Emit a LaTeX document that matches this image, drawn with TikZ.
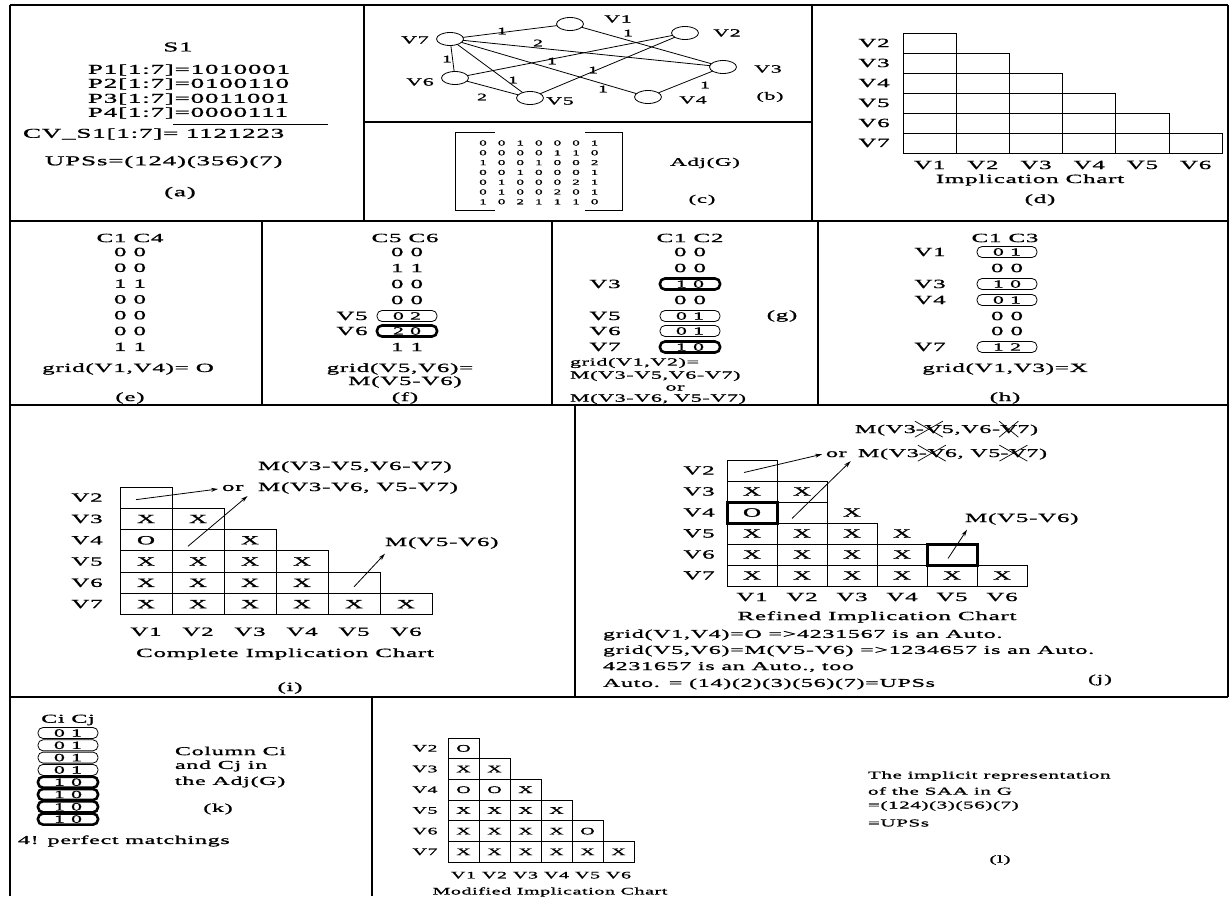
\documentclass[tikz,border=0pt]{standalone}
\usepackage{fontspec}
\setmainfont{Liberation Serif}[FakeStretch=2.0,LetterSpace=6,FakeBold=1.2]
\usetikzlibrary{shapes.geometric,arrows.meta}
\newcommand\fsz[1]{\fontsize{#1}{#1}\selectfont}
\newcommand\chartlabels[8]{%
  \foreach \rA in {2,...,7}
    \node[fs=#6] (#1-r\rA) at ({#2-#7},{#3+(\rA-1.5)*#5}) {V\rA};
  \foreach \cA in {1,...,6}
    \node[fs=#6] (#1-c\cA) at ({#2+(\cA-0.5)*#4},{#3+6*#5+#8}) {V\cA};
}
\newcommand\cells[7]{%
  \foreach \cA/\rA/\tA in {#7}
    \node[#6, minimum width=#4pt, minimum height=#5pt] (#1-\cA-\rA) at ({#2+(\cA-0.5)*#4},{#3+(\rA-1.5)*#5}) {\tA};
}
\begin{document}
\begin{tikzpicture}[x=1pt,y=-1pt,
  every node/.style={inner sep=0pt, outer sep=0pt},
  fs/.style={font=\fsz{#1}},
  frame/.style={line width=1.1pt},
  cell/.style={draw, line width=0.9pt, fs=12.5},
  nobox/.style={fs=12.5},
  thickcell/.style={draw, line width=3pt, fs=12.5},
  lcell/.style={draw, line width=0.9pt, fs=10},
  pill/.style={draw, line width=0.8pt, rounded corners=5pt, minimum width=60pt, minimum height=11pt, fs=11},
  thickpill/.style={pill, line width=2.6pt},
  vnode/.style={draw, ellipse, line width=0.8pt, minimum width=27pt, minimum height=13pt},
  edge/.style={line width=0.8pt},
  arr/.style={line width=0.8pt, -{Stealth[length=7pt,width=4pt]}},
  cross/.style={line width=0.7pt},
]
\useasboundingbox (0,0) rectangle (1230,896);
\fill[white] (0,0) rectangle (1230,896);

% frames
\draw[frame] (10,5) -- (1228,5);
\draw[frame] (10,5) -- (10,896);
\draw[frame] (1228,5) -- (1228,697);
\draw[frame] (10,221) -- (1228,221);
\draw[frame] (10,405) -- (1228,405);
\draw[frame] (10,697) -- (1228,697);
\draw[frame] (364,5) -- (364,221);
\draw[frame] (812,5) -- (812,221);
\draw[frame] (364,122) -- (812,122);
\draw[frame] (262,221) -- (262,405);
\draw[frame] (552,221) -- (552,405);
\draw[frame] (818,221) -- (818,405);
\draw[frame] (575,405) -- (575,697);
\draw[frame] (372,697) -- (372,896);

% (a)
\node[fs=13.5] (a-s1) at (178,47) {S1};
\node[fs=13.5,anchor=west] (a-p1) at (88,70) {P1[1:7]=1010001};
\node[fs=13.5,anchor=west] (a-p2) at (88,84) {P2[1:7]=0100110};
\node[fs=13.5,anchor=west] (a-p3) at (88,99) {P3[1:7]=0011001};
\node[fs=13.5,anchor=west] (a-p4) at (88,113) {P4[1:7]=0000111};
\draw[line width=0.8pt] (173,124) -- (328,124);
\node[fs=13.5,anchor=west] (a-cv) at (23,134) {CV\_S1[1:7]= 1121223};
\node[fs=13.5,anchor=west] (a-ups) at (45,162) {UPSs=(124)(356)(7)};
\node[fs=13.5] (a-lab) at (180,193) {(a)};

% (b) graph
\node[vnode] (v1) at (570,24) {};
\node[vnode] (v2) at (685,33) {};
\node[vnode] (v3) at (723,67) {};
\node[vnode] (v4) at (648,97) {};
\node[vnode] (v5) at (530,98) {};
\node[vnode] (v6) at (455,78) {};
\node[vnode] (v7) at (450,39) {};
\node[fs=11] (lv1) at (618,19) {V1};
\node[fs=11] (lv2) at (727,33) {V2};
\node[fs=11] (lv3) at (768,69) {V3};
\node[fs=11] (lv4) at (693,100) {V4};
\node[fs=11] (lv5) at (560,101) {V5};
\node[fs=11] (lv6) at (420,82) {V6};
\node[fs=11] (lv7) at (415,40) {V7};
\node[fs=11] (b-lab) at (770,97) {(b)};
\draw[edge] (v7) -- (v1);
\draw[edge] (v1) -- (v3);
\draw[edge] (v7) -- (v3);
\draw[edge] (v7) -- (v6);
\draw[edge] (v7) -- (v5);
\draw[edge] (v7) -- (v4);
\draw[edge] (v6) -- (v2);
\draw[edge] (v5) -- (v2);
\draw[edge] (v6) -- (v5);
\draw[edge] (v4) -- (v3);
\node[fs=10] (w71) at (502,31) {1};
\node[fs=10] (w13) at (628,33) {1};
\node[fs=10] (w73) at (538,43) {2};
\node[fs=10] (w76) at (447,59) {1};
\node[fs=10] (w62) at (552,61) {1};
\node[fs=10] (w52) at (593,70) {1};
\node[fs=10] (w75) at (513,80) {1};
\node[fs=10] (w74) at (603,89) {1};
\node[fs=10] (w65) at (482,97) {2};
\node[fs=10] (w43) at (705,85) {1};

% (c) adjacency matrix
\draw[line width=0.9pt] (495,132) -- (455,132) -- (455,210) -- (495,210);
\draw[line width=0.9pt] (585,132) -- (622,132) -- (622,210) -- (585,210);
\foreach \rowA [count=\ri] in {{0,0,1,0,0,0,1},{0,0,0,0,1,1,0},{1,0,0,1,0,0,2},{0,0,1,0,0,0,1},{0,1,0,0,0,2,1},{0,1,0,0,2,0,1},{1,0,2,1,1,1,0}}
  \foreach \dA [count=\cj] in \rowA
    \node[fs=7.5] (m-\ri-\cj) at ({483+(\cj-1)*18.6},{143+(\ri-1)*9.8}) {\dA};
\node[fs=11.5] (c-adj) at (705,163) {Adj(G)};
\node[fs=11.5] (c-lab) at (702,200) {(c)};

% (d)
\foreach \cA in {1,...,6}{
  \pgfmathtruncatemacro\rS{\cA+1}
  \foreach \rA in {\rS,...,7}
    \node[draw, line width=0.9pt, minimum width=53.2pt, minimum height=20pt] (d-\cA-\rA) at ({903+(\cA-0.5)*53.2},{33+(\rA-1.5)*20}) {};
}
\chartlabels{d}{903}{33}{53.2}{20}{12.5}{29}{12}
\node[fs=12.5] (d-title) at (1030,180) {Implication Chart};
\node[fs=12.5] (d-lab) at (1040,200) {(d)};

% (e)
\node[fs=12.5] (e-h) at (130,238) {C1 C4};
\foreach \tA [count=\i] in {0 0,0 0,1 1,0 0,0 0,0 0,1 1}
  \node[fs=12.5] (e-\i) at (130,{252+(\i-1)*15.8}) {\tA};
\node[fs=12.5] (e-g) at (128,369) {grid(V1,V4)= O};
\node[fs=12.5] (e-lab) at (130,398) {(e)};

% (f)
\node[fs=12.5] (f-h) at (405,238) {C5 C6};
\node[fs=12.5] (f-1) at (407,252) {0 0};
\node[fs=12.5] (f-2) at (407,268) {1 1};
\node[fs=12.5] (f-3) at (407,284) {0 0};
\node[fs=12.5] (f-4) at (407,300) {0 0};
\node[pill] (f-5) at (407,316) {0 2};
\node[thickpill] (f-6) at (407,331) {2 0};
\node[fs=12.5] (f-7) at (407,347) {1 1};
\node[fs=12.5] (f-l5) at (352,316) {V5};
\node[fs=12.5] (f-l6) at (352,331) {V6};
\node[fs=12.5] (f-g1) at (400,369) {grid(V5,V6)=};
\node[fs=12.5] (f-g2) at (405,382) {M(V5-V6)};
\node[fs=12.5] (f-lab) at (405,398) {(f)};

% (g)
\node[fs=12.5] (g-h) at (690,238) {C1 C2};
\node[fs=12.5] (g-1) at (690,252) {0 0};
\node[fs=12.5] (g-2) at (690,268) {0 0};
\node[thickpill] (g-3) at (690,284) {1 0};
\node[fs=12.5] (g-4) at (690,300) {0 0};
\node[pill] (g-5) at (690,316) {0 1};
\node[pill] (g-6) at (690,331) {0 1};
\node[thickpill] (g-7) at (690,347) {1 0};
\node[fs=12.5] (g-l3) at (605,284) {V3};
\node[fs=12.5] (g-l5) at (605,316) {V5};
\node[fs=12.5] (g-l6) at (605,331) {V6};
\node[fs=12.5] (g-l7) at (605,347) {V7};
\node[fs=12.5] (g-lab) at (782,316) {(g)};
\node[fs=11,anchor=west] (g-t1) at (570,363) {grid(V1,V2)=};
\node[fs=11,anchor=west] (g-t2) at (570,376) {M(V3-V5,V6-V7)};
\node[fs=11] (g-t3) at (675,388) {or};
\node[fs=11,anchor=west] (g-t4) at (570,399) {M(V3-V6, V5-V7)};

% (h)
\node[fs=12.5] (h-h) at (1005,238) {C1 C3};
\node[pill] (h-1) at (1007,252) {0 1};
\node[fs=12.5] (h-2) at (1007,268) {0 0};
\node[pill] (h-3) at (1007,284) {1 0};
\node[pill] (h-4) at (1007,300) {0 1};
\node[fs=12.5] (h-5) at (1007,316) {0 0};
\node[fs=12.5] (h-6) at (1007,331) {0 0};
\node[pill] (h-7) at (1007,347) {1 2};
\node[fs=12.5] (h-l1) at (930,252) {V1};
\node[fs=12.5] (h-l3) at (930,284) {V3};
\node[fs=12.5] (h-l4) at (930,300) {V4};
\node[fs=12.5] (h-l7) at (930,347) {V7};
\node[fs=12.5] (h-g) at (1005,369) {grid(V1,V3)=X};
\node[fs=12.5] (h-lab) at (1005,398) {(h)};

% (i)
\cells{i}{120}{487}{52}{21.3}{cell}{1/2/{},1/3/X,1/4/O,1/5/X,1/6/X,1/7/X,2/3/X,2/4/{},2/5/X,2/6/X,2/7/X,3/4/X,3/5/X,3/6/X,3/7/X,4/5/X,4/6/X,4/7/X,5/6/{},5/7/X,6/7/X}
\chartlabels{i}{120}{487}{52}{21.3}{12.5}{33}{17}
\node[fs=12.5,anchor=west] (i-m1) at (258,467) {M(V3-V5,V6-V7)};
\node[fs=12.5,anchor=west] (i-or) at (222,488) {or};
\node[fs=12.5,anchor=west] (i-m2) at (258,488) {M(V3-V6, V5-V7)};
\node[fs=12.5,anchor=west] (i-m3) at (385,543) {M(V5-V6)};
\draw[arr] ([shift={(-10,2)}]i-1-2.center) -- ([shift={(-4,1)}]i-or.west);
\draw[arr] ([shift={(-10,6)}]i-2-4.center) -- ([shift={(4,5)}]i-or.south east);
\draw[arr] ([shift={(0,4)}]i-5-6.center) -- ([shift={(0,5)}]i-m3.south west);
\node[fs=12.5] (i-title) at (285,654) {Complete Implication Chart};
\node[fs=12.5] (i-lab) at (290,688) {(i)};

% (j)
\cells{j}{727}{460}{50}{21}{cell}{1/2/{},1/3/X,1/5/X,1/6/X,1/7/X,2/3/X,2/4/{},2/5/X,2/6/X,2/7/X,3/5/X,3/6/X,3/7/X,4/6/X,4/7/X,5/7/X,6/7/X}
\cells{j}{727}{460}{50}{21}{nobox}{3/4/X,4/5/X}
\cells{j}{727}{460}{50}{21}{thickcell}{1/4/O,5/6/{}}
\chartlabels{j}{727}{460}{50}{21}{12.5}{28}{11}
\node[fs=12,anchor=base west] (j-a1) at (855,433) {M(V3};
\node[fs=12,anchor=base west] (j-a2) at (j-a1.base east) {-V};
\node[fs=12,anchor=base west] (j-a3) at (j-a2.base east) {5,V6-};
\node[fs=12,anchor=base west] (j-a4) at (j-a3.base east) {V};
\node[fs=12,anchor=base west] (j-a5) at (j-a4.base east) {7)};
\node[fs=12,anchor=base west] (j-or) at (826,457) {or};
\node[fs=12,anchor=base west] (j-b1) at (858,457) {M(V3};
\node[fs=12,anchor=base west] (j-b2) at (j-b1.base east) {-V};
\node[fs=12,anchor=base west] (j-b3) at (j-b2.base east) {6, V5};
\node[fs=12,anchor=base west] (j-b4) at (j-b3.base east) {-V};
\node[fs=12,anchor=base west] (j-b5) at (j-b4.base east) {7)};
\foreach \nA in {j-a2,j-a4,j-b2,j-b4}{
  \draw[cross] ([shift={(-1,-4)}]\nA.north west) -- ([shift={(1,4)}]\nA.south east);
  \draw[cross] ([shift={(-1,4)}]\nA.south west) -- ([shift={(1,-4)}]\nA.north east);
}
\node[fs=12.5,anchor=west] (j-m3) at (965,519) {M(V5-V6)};
\draw[arr] ([shift={(-8,2)}]j-1-2.center) -- ([shift={(-4,0)}]j-or.west);
\draw[arr] ([shift={(-10,6)}]j-2-4.center) -- ([shift={(4,4)}]j-or.south east);
\draw[arr] ([shift={(-4,4)}]j-5-6.center) -- ([shift={(2,5)}]j-m3.south west);
\node[fs=12.5] (j-title) at (877,617) {Refined Implication Chart};
\node[fs=12,anchor=west] (j-t1) at (603,635) {grid(V1,V4)=O =>4231567 is an Auto.};
\node[fs=12,anchor=west] (j-t2) at (603,651) {grid(V5,V6)=M(V5-V6) =>1234657 is an Auto.};
\node[fs=12,anchor=west] (j-t3) at (603,667) {4231657 is an Auto., too};
\node[fs=12,anchor=west] (j-t4) at (603,684) {Auto. = (14)(2)(3)(56)(7)=UPSs};
\node[fs=12] (j-lab) at (1100,680) {(j)};

% (k)
\node[fs=12] (k-h) at (68,720) {Ci Cj};
\foreach \i in {1,...,4}
  \node[pill] (k-\i) at (68,{733+(\i-1)*12.3}) {0 1};
\foreach \i in {5,...,8}
  \node[thickpill] (k-\i) at (68,{733+(\i-1)*12.3}) {1 0};
\node[fs=12,anchor=west] (k-t1) at (175,751) {Column Ci};
\node[fs=12,anchor=west] (k-t2) at (175,766) {and Cj in};
\node[fs=12,anchor=west] (k-t3) at (175,782) {the Adj(G)};
\node[fs=12] (k-lab) at (218,809) {(k)};
\node[fs=12,anchor=west] (k-t4) at (18,841) {4! perfect matchings};

% (l)
\cells{l}{448}{738}{31}{20.7}{lcell}{1/2/O,1/3/X,1/4/O,1/5/X,1/6/X,1/7/X,2/3/X,2/4/O,2/5/X,2/6/X,2/7/X,3/4/X,3/5/X,3/6/X,3/7/X,4/5/X,4/6/X,4/7/X,5/6/O,5/7/X,6/7/X}
\chartlabels{l}{448}{738}{31}{20.7}{10}{23}{13}
\node[fs=10] (l-title) at (550,892) {Modified Implication Chart};
\node[fs=10.5,anchor=west] (l-t1) at (868,776) {The implicit representation};
\node[fs=10.5,anchor=west] (l-t2) at (868,791) {of the SAA in G};
\node[fs=10.5,anchor=west] (l-t3) at (868,806) {=(124)(3)(56)(7)};
\node[fs=10.5,anchor=west] (l-t4) at (868,823) {=UPSs};
\node[fs=10.5] (l-lab) at (1000,860) {(l)};
\end{tikzpicture}
\end{document}
